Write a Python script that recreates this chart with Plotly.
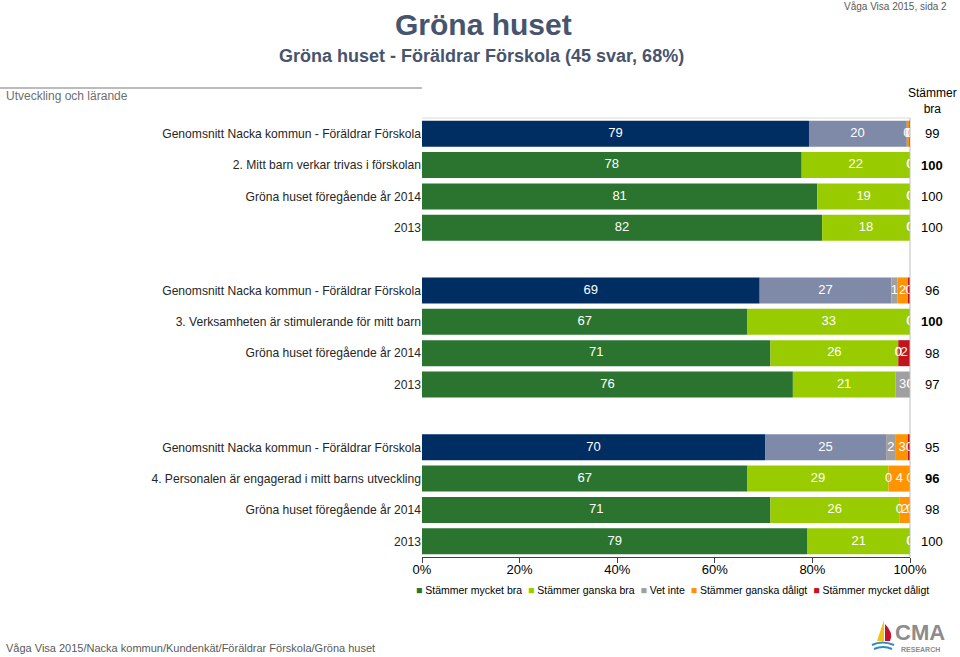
import plotly.graph_objects as go

# Rader uppifrån och ned (None = tom rad mellan frågorna)
rad_text = [
    'Genomsnitt Nacka kommun - Föräldrar Förskola',
    '2. Mitt barn verkar trivas i förskolan',
    'Gröna huset föregående år 2014',
    '2013',
    None,
    'Genomsnitt Nacka kommun - Föräldrar Förskola',
    '3. Verksamheten är stimulerande för mitt barn',
    'Gröna huset föregående år 2014',
    '2013',
    None,
    'Genomsnitt Nacka kommun - Föräldrar Förskola',
    '4. Personalen är engagerad i mitt barns utveckling',
    'Gröna huset föregående år 2014',
    '2013',
]
rad_typ = ['nacka', 'nu', 'tidigare', 'tidigare', None,
           'nacka', 'nu', 'tidigare', 'tidigare', None,
           'nacka', 'nu', 'tidigare', 'tidigare']

mycket_bra    = [79.3, 77.8, 81.0, 82.0, None, 69.2, 66.7, 71.4, 76.0, None, 70.3, 66.7, 71.4, 79.0]
ganska_bra    = [19.9, 22.2, 19.0, 18.0, None, 27.0, 33.3, 26.2, 21.0, None, 24.8, 28.9, 26.4, 21.0]
vet_inte      = [0.3, 0.0, 0.0, 0.0, None, 1.2, 0.0, 0.0, 3.0, None, 2.0, 0.0, 0.0, 0.0]
ganska_daligt = [0.45, 0.0, 0.0, 0.0, None, 2.2, 0.0, 0.0, 0.0, None, 2.6, 4.4, 2.2, 0.0]
mycket_daligt = [0.05, 0.0, 0.0, 0.0, None, 0.4, 0.0, 2.4, 0.0, None, 0.3, 0.0, 0.0, 0.0]

serier = ['Stämmer mycket bra', 'Stämmer ganska bra', 'Vet inte',
          'Stämmer ganska dåligt', 'Stämmer mycket dåligt']
x_ticks = [0, 20, 40, 60, 80, 100]

GRON_MORK = '#2A7430'
GRON_LJUS = '#99CC00'
GRA = '#A0A0A0'
ORANGE = '#FF9400'
ROD = '#C0141E'
NAVY = '#002D62'
SKIFFER = '#7F8AA8'
RUBRIK = '#46546E'

L, R, T, B = 422, 50, 118, 100
W, H = 960, 657


def px(x):
    return (x - L) / (W - L - R)


def py(y):
    return (H - B - y) / (H - T - B)


def txt(x, y, s, size, color='black', xa='center'):
    return dict(x=px(x), y=py(y), xref='paper', yref='paper', text=s, showarrow=False,
                xanchor=xa, yanchor='middle', font=dict(size=size, color=color))


rows = [i for i, t in enumerate(rad_text) if t is not None]
data = [mycket_bra, ganska_bra, vet_inte, ganska_daligt, mycket_daligt]

fig = go.Figure()

farg_nacka = [NAVY, SKIFFER, GRA, ORANGE, ROD]
farg_vanlig = [GRON_MORK, GRON_LJUS, GRA, ORANGE, ROD]

lbl_x, lbl_y, lbl_t = [], [], []
for k, (namn, vals) in enumerate(zip(serier, data)):
    xs = [vals[i] for i in rows]
    bas = [sum(data[j][i] for j in range(k)) for i in rows]
    farger = [farg_nacka[k] if rad_typ[i] == 'nacka' else farg_vanlig[k] for i in rows]
    fig.add_trace(go.Bar(
        x=xs, y=rows, base=bas, orientation='h', width=0.83,
        marker=dict(color=farger, line=dict(width=0)),
        name=namn, showlegend=False, hoverinfo='skip',
    ))
    for i, b0, v in zip(rows, bas, xs):
        lbl_x.append(b0 + v / 2)
        lbl_y.append(i)
        lbl_t.append(str(int(round(v))))

fig.add_trace(go.Scatter(
    x=lbl_x, y=lbl_y, text=lbl_t, mode='text', cliponaxis=True,
    textfont=dict(color='white', size=13, family='Liberation Sans, Arial'),
    showlegend=False, hoverinfo='skip',
))

annotations = []
# Stämmer bra-kolumnen
for i in rows:
    v = int(round(mycket_bra[i] + ganska_bra[i]))
    s = f'<b>{v}</b>' if rad_typ[i] == 'nu' else str(v)
    annotations.append(dict(x=px(932), xref='paper', y=i, yref='y', text=s,
                            showarrow=False, xanchor='center', yanchor='middle',
                            font=dict(size=13, color='black')))

annotations += [
    txt(483, 24, '<b>Gröna huset</b>', 30, RUBRIK),
    txt(481, 56, '<b>Gröna huset - Föräldrar Förskola (45 svar, 68%)</b>', 18, RUBRIK),
    txt(949, 6, 'Våga Visa 2015, sida 2', 10, '#595959', 'right'),
    txt(4, 96, 'Utveckling och lärande', 12, '#6E6E6E', 'left'),
    txt(932, 101, 'Stämmer<br>bra', 12),
    txt(4, 648, 'Våga Visa 2015/Nacka kommun/Kundenkät/Föräldrar Förskola/Gröna huset', 11,
        '#595959', 'left'),
    txt(920, 632, '<b>CMA</b>', 22, '#8C8C8C'),
    txt(920, 649, '<b>RESEARCH</b>', 7, '#8C8C8C'),
]

# Manuell förklaring med små kvadrater
farger_leg = [GRON_MORK, GRON_LJUS, GRA, ORANGE, ROD]
leg = '  '.join(f"<span style='color:{c}'>■</span> {n}" for c, n in zip(farger_leg, serier))
annotations.append(txt(672, 590, leg, 10.5))

shapes = [
    dict(type='line', xref='paper', yref='paper', x0=px(0), x1=px(422), y0=py(88), y1=py(88),
         line=dict(color='#A6A6A6', width=1.5)),
    dict(type='line', xref='paper', yref='paper', x0=0, x1=1, y0=1, y1=1,
         line=dict(color='#D9D9D9', width=1)),
    dict(type='line', xref='paper', yref='paper', x0=1, x1=1, y0=0, y1=1,
         line=dict(color='#BFBFBF', width=1)),
    # segelbåt i logotypen
    dict(type='path', xref='paper', yref='paper',
         path=f'M {px(884)} {py(620)} L {px(877)} {py(641)} L {px(884)} {py(641)} Z',
         fillcolor='#F2C21B', line=dict(width=0)),
    dict(type='path', xref='paper', yref='paper',
         path=f'M {px(885)} {py(624)} Q {px(894)} {py(633)} {px(890)} {py(641)} L {px(885)} {py(641)} Z',
         fillcolor='#C8102E', line=dict(width=0)),
    dict(type='path', xref='paper', yref='paper',
         path=f'M {px(872)} {py(645)} Q {px(882)} {py(640)} {px(894)} {py(645)}',
         line=dict(color='#2E8BC0', width=2)),
    dict(type='path', xref='paper', yref='paper',
         path=f'M {px(874)} {py(649)} Q {px(883)} {py(645)} {px(892)} {py(649)}',
         line=dict(color='#2E8BC0', width=2)),
]

fig.update_layout(
    width=W, height=H,
    margin=dict(l=L, r=R, t=T, b=B),
    paper_bgcolor='white', plot_bgcolor='white',
    barmode='overlay',
    font=dict(family='Liberation Sans, Arial, sans-serif', color='black'),
    xaxis=dict(range=[0, 100], tickvals=x_ticks, ticktext=[f'{v}%' for v in x_ticks],
               showgrid=False, zeroline=False, showline=True, linecolor='#404040',
               ticks='outside', ticklen=5, tickcolor='#404040', ticklabelstandoff=-5,
               tickfont=dict(size=13, color='black')),
    yaxis=dict(range=[13.5, -0.5], tickvals=rows, ticktext=[rad_text[i] for i in rows],
               showgrid=False, zeroline=False, showline=False, ticks='',
               tickfont=dict(size=12.1, color='#262626')),
    annotations=annotations,
    shapes=shapes,
    showlegend=False,
)

fig.write_html('out.html', config={'displayModeBar': False},
               post_script="document.body.style.margin='0';")
